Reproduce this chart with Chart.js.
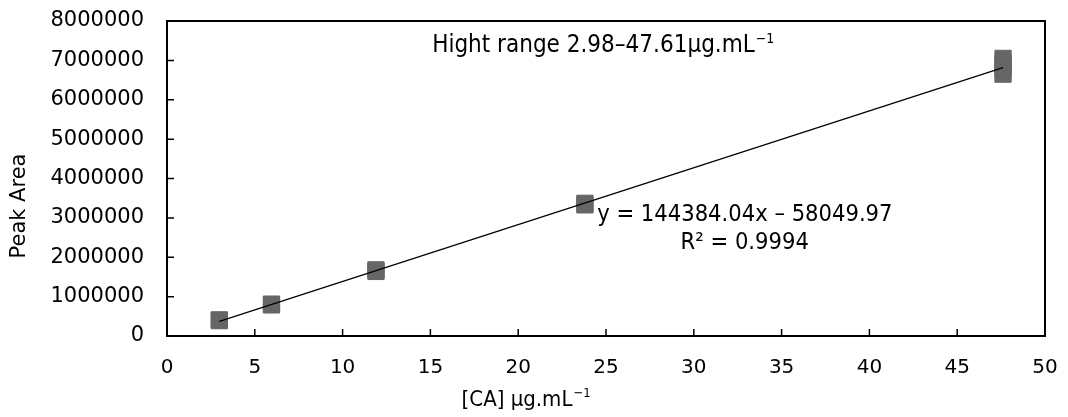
<!DOCTYPE html>
<html>
<head>
    <meta charset="UTF-8">
    <script src="https://cdn.jsdelivr.net/npm/chart.js"></script>
    <style>
        body { margin: 0; background: #fff; }
        #wrap { width: 1068px; height: 417px; }
    </style>
</head>
<body>
    <div id="wrap"><canvas id="calib"></canvas></div>
    <script>
        // calibration points (replicates overlap)
        const concX = [2.98, 2.98, 5.95, 5.95, 11.9, 11.9, 23.8, 23.8, 47.61, 47.61, 47.61, 47.61];
        const peakArea = [390000, 410000, 790000, 810000, 1640000, 1680000, 3330000, 3370000, 6650000, 6780000, 6920000, 7050000];
        const xTicks = [0, 5, 10, 15, 20, 25, 30, 35, 40, 45, 50];
        const yTicks = [0, 1000000, 2000000, 3000000, 4000000, 5000000, 6000000, 7000000, 8000000];
        const slope = 144384.04, intercept = -58049.97;
        const fitRange = [2.98, 47.61];

        const fontFam = "'DejaVu Sans', sans-serif";
        const noteFam = "'DejaVu Sans Condensed', 'DejaVu Sans', sans-serif";

        // superscript helper
        function textWithSup(ctx, base, sup, x, y, size) {
            ctx.font = size + "px " + noteFam;
            ctx.fillText(base, x, y);
            const w = ctx.measureText(base).width;
            ctx.font = Math.round(size * 0.6) + "px " + noteFam;
            ctx.fillText(sup, x + w + 1, y - size * 0.3);
            return w + ctx.measureText(sup).width + 1;
        }

        const frame = {
            id: 'frame',
            afterDatasetsDraw(chart) {
                const { ctx, chartArea: a, scales } = chart;
                ctx.save();
                ctx.strokeStyle = '#000';
                ctx.lineWidth = 2;
                ctx.strokeRect(a.left, a.top, a.right - a.left, a.bottom - a.top);
                ctx.lineWidth = 1.5;
                ctx.beginPath();
                scales.x.ticks.forEach((t, i) => {
                    const px = scales.x.getPixelForTick(i);
                    ctx.moveTo(px, a.bottom); ctx.lineTo(px, a.bottom - 7);
                });
                scales.y.ticks.forEach((t, i) => {
                    const py = scales.y.getPixelForTick(i);
                    ctx.moveTo(a.left, py); ctx.lineTo(a.left + 7, py);
                });
                ctx.stroke();

                // annotations
                ctx.fillStyle = '#000';
                ctx.textBaseline = 'middle';
                ctx.textAlign = 'left';
                const sx = scales.x, sy = scales.y;
                textWithSup(ctx, 'Hight range 2.98\u201347.61\u03bcg.mL', '\u22121',
                    sx.getPixelForValue(15.1), sy.getPixelForValue(7360000), 24);

                ctx.font = "23.5px " + noteFam;
                ctx.fillText('y = 144384.04x \u2013 58049.97', sx.getPixelForValue(24.5), sy.getPixelForValue(3070000));
                ctx.textAlign = 'center';
                ctx.fillText('R\u00b2 = 0.9994', sx.getPixelForValue(32.9), sy.getPixelForValue(2360000));

                // axis titles
                ctx.textAlign = 'left';
                ctx.font = "22px " + noteFam;
                const xt = '[CA] \u03bcg.mL';
                const xw = ctx.measureText(xt).width + 12;
                textWithSup(ctx, xt, '\u22121', 523 - xw / 2, 400, 22);

                ctx.translate(20, 206);
                ctx.rotate(-Math.PI / 2);
                ctx.textAlign = 'center';
                ctx.font = "21px " + fontFam;
                ctx.fillText('Peak Area', 0, 0);
                ctx.restore();
            }
        };

        new Chart(document.getElementById('calib'), {
            type: 'scatter',
            data: {
                datasets: [
                    {
                        label: 'Peak Area',
                        data: concX.map((x, i) => ({ x: x, y: peakArea[i] })),
                        backgroundColor: '#666666',
                        borderColor: '#666666',
                        borderWidth: 1,
                        pointStyle: 'rect',
                        pointRadius: 11.5,
                        order: 2
                    },
                    {
                        label: 'fit',
                        type: 'line',
                        data: fitRange.map(x => ({ x: x, y: slope * x + intercept })),
                        borderColor: '#000',
                        borderWidth: 1.2,
                        pointRadius: 0,
                        fill: false,
                        order: 1
                    }
                ]
            },
            options: {
                responsive: true,
                maintainAspectRatio: false,
                animation: false,
                layout: { padding: { left: 0, right: 23, top: 21, bottom: 0 } },
                plugins: { legend: { display: false }, tooltip: { enabled: false } },
                scales: {
                    x: {
                        type: 'linear', min: 0, max: 50,
                        afterBuildTicks: s => { s.ticks = xTicks.map(v => ({ value: v })); },
                        afterFit: s => { s.height = 81; s.paddingLeft = 0; s.paddingRight = 0; },
                        grid: { display: false },
                        border: { display: false },
                        ticks: { color: '#000', font: { family: fontFam, size: 20 }, padding: 12, maxRotation: 0 },
                        title: { display: false }
                    },
                    y: {
                        type: 'linear', min: 0, max: 8000000,
                        afterBuildTicks: s => { s.ticks = yTicks.map(v => ({ value: v })); },
                        afterFit: s => { s.width = 167; s.paddingTop = 0; s.paddingBottom = 0; },
                        grid: { display: false },
                        border: { display: false },
                        ticks: { color: '#000', font: { family: fontFam, size: 21 }, padding: 15, callback: v => String(v) },
                        title: { display: false }
                    }
                }
            },
            plugins: [frame]
        });
    </script>
</body>
</html>
